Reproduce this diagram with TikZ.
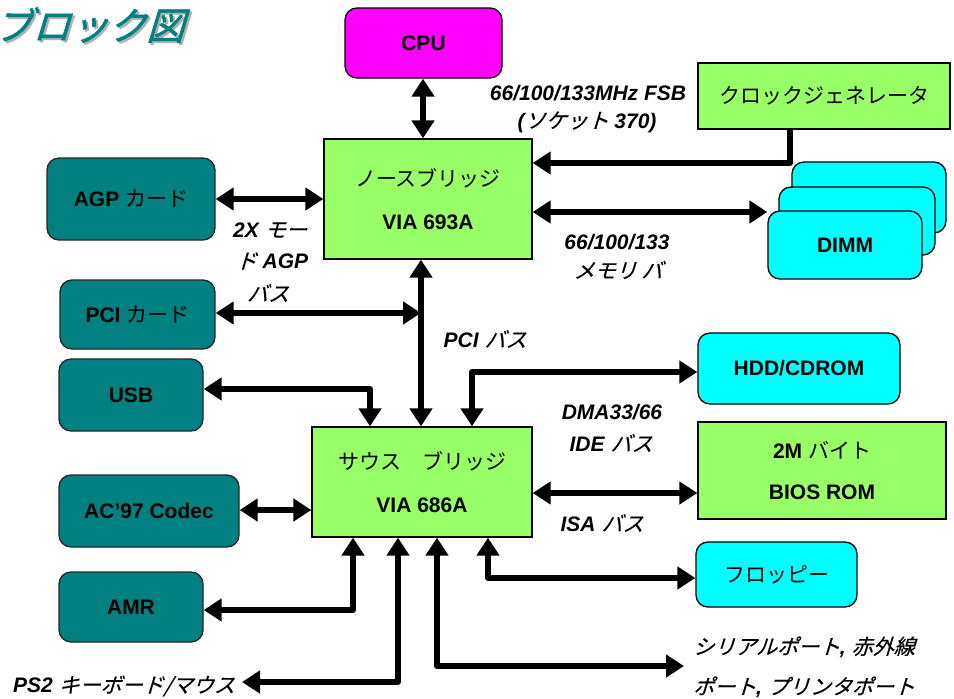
\documentclass[tikz,border=0pt]{standalone}
\usepackage{fontspec}
\setmainfont{Liberation Sans}
\newfontfamily\jp{Noto Sans CJK JP}
\usetikzlibrary{arrows.meta}
\definecolor{chipgreen}{HTML}{99FF66}
\definecolor{cardteal}{HTML}{008080}
\definecolor{devcyan}{HTML}{00FFFF}
\definecolor{cpumag}{HTML}{FF00FF}
\definecolor{shadowgray}{HTML}{B0B0B0}
\newcommand{\J}[1]{{\jp\mdseries\upshape #1}}
\newcommand{\JI}[1]{{\fontspec{Noto Sans CJK JP}[FakeSlant=0.3,FakeBold=0.2]\mdseries\upshape #1}}
\tikzset{
  boxtxt/.style={font=\fontsize{21}{43}\selectfont\bfseries, text=black, inner sep=0pt, align=center},
  chip/.style={boxtxt, draw=black, line width=1.3pt, fill=chipgreen},
  card/.style={boxtxt, draw=black!85, line width=1.3pt, fill=cardteal, rounded corners=12pt},
  dev/.style={boxtxt, draw=black, line width=1.3pt, fill=devcyan, rounded corners=12pt},
  cpubox/.style={boxtxt, draw=black, line width=1.3pt, fill=cpumag, rounded corners=12pt},
  lab/.style={font=\fontsize{21}{42}\selectfont\bfseries\itshape, text=black, inner sep=0pt, align=center},
  arr/.style={line width=5.5pt, line join=round, -{Triangle[length=18pt,width=22pt]}},
  darr/.style={line width=5.5pt, line join=round, {Triangle[length=18pt,width=22pt]}-{Triangle[length=18pt,width=22pt]}},
}
\begin{document}
\begin{tikzpicture}[x=1pt,y=-1pt]
\useasboundingbox (0,0) rectangle (954,699);

% title
\node[anchor=west, inner sep=0pt, text=shadowgray, font=\fontsize{38}{40}\selectfont] (titlesh) at (-4,27) {\fontspec{Noto Sans CJK JP}[FakeSlant=0.3,FakeBold=1.5]ブロック図};
\node[anchor=west, inner sep=0pt, text=cardteal, font=\fontsize{38}{40}\selectfont] (title) at (-6,25) {\fontspec{Noto Sans CJK JP}[FakeSlant=0.3,FakeBold=1.5]ブロック図};

% chips
\node[cpubox, minimum width=157pt, minimum height=70pt] (cpu) at (423.5,43) {CPU};
\node[chip, minimum width=208pt, minimum height=120pt] (nb) at (428,199) {\J{ノースブリッジ}\\VIA 693A};
\node[chip, minimum width=252pt, minimum height=66pt] (clk) at (824,96) {\J{クロックジェネレータ}};
\node[chip, minimum width=220pt, minimum height=110pt] (sb) at (422,482) {\J{サウス　ブリッジ}\\VIA 686A};
\node[chip, minimum width=248pt, minimum height=97pt] (bios) at (822,470.5) {2M \J{バイト}\\[-2pt]BIOS ROM};

% DIMM stack
\node[dev, minimum width=154pt, minimum height=71pt] (dimm3) at (869,197.5) {};
\node[dev, minimum width=156pt, minimum height=68pt] (dimm2) at (857,221) {};
\node[dev, minimum width=154pt, minimum height=68pt] (dimm1) at (845,245) {DIMM};

% cards
\node[card, minimum width=168pt, minimum height=82pt] (agp) at (131,199) {AGP \J{カード}};
\node[card, minimum width=155pt, minimum height=69pt] (pci) at (137.5,314.5) {PCI \J{カード}};
\node[card, minimum width=144pt, minimum height=72pt] (usb) at (131,395) {USB};
\node[card, minimum width=180pt, minimum height=72pt] (ac) at (149,511) {AC’97 Codec};
\node[card, minimum width=144pt, minimum height=70pt] (amr) at (131,607) {AMR};

% devices
\node[dev, minimum width=202pt, minimum height=71pt] (hdd) at (799,368.5) {HDD/CDROM};
\node[dev, minimum width=161pt, minimum height=65pt] (fdd) at (776.5,574.5) {\J{フロッピー}};

% helper coordinates
\coordinate (xcpu) at (423,0);
\coordinate (xclk) at (790,0);
\coordinate (yclk) at (0,163);
\coordinate (ydimm) at (0,212);
\coordinate (yagp) at (0,199);
\coordinate (xbus) at (421,0);
\coordinate (ypci) at (0,313);
\coordinate (xusb) at (370,0);
\coordinate (yusb) at (0,389);
\coordinate (xhdd) at (472,0);
\coordinate (yhdd) at (0,372);
\coordinate (ybios) at (0,493);
\coordinate (yac) at (0,510);
\coordinate (xamr) at (353,0);
\coordinate (yamr) at (0,610);
\coordinate (xps2) at (398,0);
\coordinate (ps2end) at (242,682);
\coordinate (xser) at (437,0);
\coordinate (serend) at (684,666);
\coordinate (xfdd) at (488,0);
\coordinate (yfdd) at (0,578);

% connectors
\draw[darr] (cpu.south -| xcpu) -- (nb.north -| xcpu);
\draw[arr] (clk.south -| xclk) |- (nb.east |- yclk);
\draw[darr] (nb.east |- ydimm) -- (dimm1.west |- ydimm);
\draw[darr] (agp.east |- yagp) -- (nb.west |- yagp);
\draw[darr] (nb.south -| xbus) -- (sb.north -| xbus);
\draw[darr] (pci.east |- ypci) -- (xbus |- ypci);
\draw[darr] (usb.east |- yusb) -| (sb.north -| xusb);
\draw[darr] (sb.north -| xhdd) |- (hdd.west |- yhdd);
\draw[darr] (sb.east |- ybios) -- (bios.west |- ybios);
\draw[darr] (ac.east |- yac) -- (sb.west |- yac);
\draw[darr] (sb.south -| xamr) |- (amr.east |- yamr);
\draw[darr] (sb.south -| xps2) |- (ps2end);
\draw[darr] (sb.south -| xser) |- (serend);
\draw[darr] (sb.south -| xfdd) |- (fdd.west |- yfdd);

% labels
\node[lab] (lfsb1) at (588,93) {66/100/133MHz FSB};
\node[lab] (lfsb2) at (587,122) {(\JI{ソケット} 370)};
\node[lab] (lmem1) at (617,242) {66/100/133};
\node[lab] (lmem2) at (618,270) {\JI{メモリ バ}};
\node[lab] (lagp1) at (270,230) {2X \JI{モー}};
\node[lab] (lagp2) at (272,261) {\JI{ド} AGP};
\node[lab] (lagp3) at (268,293) {\JI{バス}};
\node[lab] (lpci) at (485,339) {PCI \JI{バス}};
\node[lab] (lide1) at (612,412) {DMA33/66};
\node[lab] (lide2) at (611,443) {IDE \JI{バス}};
\node[lab] (lisa) at (602,523) {ISA \JI{バス}};
\node[lab, anchor=east] (lps2) at (235,686) {PS2 \JI{キーボード/マウス}};
\node[lab, anchor=west] (lser1) at (693,647) {\JI{シリアルポート}, \JI{赤外線}};
\node[lab, anchor=west] (lser2) at (693,687) {\JI{ポート}, \JI{プリンタポート}};
\end{tikzpicture}
\end{document}
